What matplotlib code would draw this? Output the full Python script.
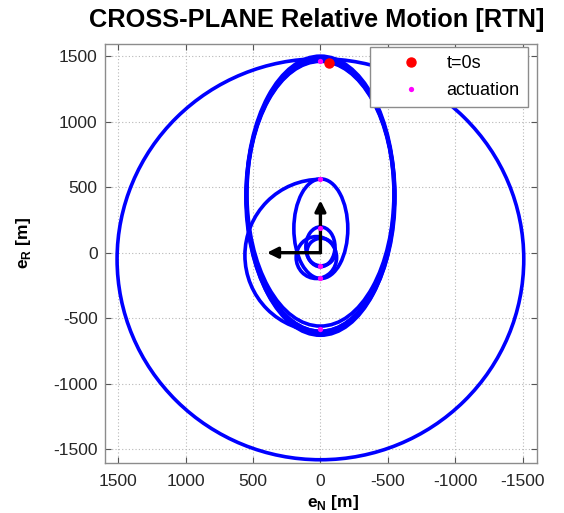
# cross_plane_rtn.py : RN平面の相対運動（各ループを楕円で表現）

import matplotlib
matplotlib.use("Agg")
import matplotlib.pyplot as plt
from matplotlib.patches import Ellipse, Arc
from matplotlib.lines import Line2D

plt.rcParams["font.family"] = ["Liberation Sans", "DejaVu Sans"]
plt.rcParams["mathtext.fontset"] = "custom"
plt.rcParams["mathtext.rm"] = "Liberation Sans"
plt.rcParams["mathtext.bf"] = "Liberation Sans:bold"

# ループ（中心 N, 中心 R, 半径 N, 半径 R）: 画像から読み取った値 [m]
loop_cn = [0, 0, 0, 0, 0, 0, -3, 0, 30, -5]
loop_cr = [-50, 450, 440, 425, 450, 430, 183, 45, -37, 5]
loop_an = [1508, 550, 547, 553, 545, 549, 200, 108, 150, 105]
loop_ar = [1530, 1050, 1040, 1040, 1010, 1060, 380, 152, 160, 105]

# 中ループ → 縦長ループへの遷移弧（+N側の半分）
arc_cn, arc_cr = 0, -20
arc_an, arc_ar = 560, 580
arc_t1, arc_t2 = -90, 90

# 初期位置と噴射点
start_n, start_r = [-64], [1450]
act_n = [0, 0, 0, 0, 0, 0]
act_r = [1460, 561, 190, -101, -195, -583]

# 座標系の矢印（R方向, N方向）
arrow_dn = [0, 397]
arrow_dr = [400, 0]

ticks = [1500, 1000, 500, 0, -500, -1000, -1500]
tick_labels = ["1500", "1000", "500", "0", "-500", "-1000", "-1500"]

fig = plt.figure(figsize=(5.64, 5.13), dpi=100)
ax = fig.add_axes([0.1856, 0.0969, 0.7665, 0.8172])

blue = (0, 0, 1)
for cn, cr, an, ar in zip(loop_cn, loop_cr, loop_an, loop_ar):
    ax.add_patch(Ellipse((cn, cr), 2 * an, 2 * ar, fill=False,
                         edgecolor=blue, lw=2.6, zorder=2))
ax.add_patch(Arc((arc_cn, arc_cr), 2 * arc_an, 2 * arc_ar,
                 theta1=arc_t1, theta2=arc_t2, edgecolor=blue, lw=2.6, zorder=2))

for dn, dr in zip(arrow_dn, arrow_dr):
    ax.annotate("", xy=(dn, dr), xytext=(0, 0),
                arrowprops=dict(arrowstyle="-|>", lw=2.4, color="k",
                                mutation_scale=16, shrinkA=0, shrinkB=0),
                zorder=4)

ax.plot(start_n, start_r, "o", color=(1, 0, 0), ms=6.5, zorder=5)
ax.plot(act_n, act_r, "o", color=(1, 0, 1), ms=3.8, mec="none", zorder=5)

ax.set_xlim(1600, -1606)
ax.set_ylim(-1607, 1592)
ax.set_xticks(ticks)
ax.set_yticks(ticks)
ax.set_xticklabels(tick_labels)
ax.set_yticklabels(tick_labels)
ax.tick_params(direction="in", top=True, right=True, length=4,
               labelsize=12.5, labelcolor="#262626", color="#555555", pad=5)
ax.tick_params(axis="x", pad=8)
for s in ax.spines.values():
    s.set_color("#8c8c8c")
    s.set_linewidth(1.0)
ax.grid(True, linestyle=(0, (1, 2)), color="#b8b8b8", lw=0.8)
ax.set_axisbelow(True)

ax.set_title("CROSS-PLANE Relative Motion [RTN]", fontsize=18.3,
             fontweight="bold", pad=12, x=0.49)
ax.set_xlabel(r"e$_{\mathbf{N}}$ [m]", fontsize=12.5, fontweight="bold")
ax.set_ylabel(r"e$_{\mathbf{R}}$ [m]", fontsize=12.5, fontweight="bold")
ax.xaxis.set_label_coords(0.528, -0.071)
ax.yaxis.set_label_coords(-0.166, 0.525)

handles = [
    Line2D([], [], marker="o", ls="none", color=(1, 0, 0), ms=6.5),
    Line2D([], [], marker="o", ls="none", color=(1, 0, 1), ms=3.8, mec="none"),
]
ax.legend(handles, ["t=0s", "actuation"], loc="upper right",
          bbox_to_anchor=(0.979, 0.993), fontsize=13, fancybox=False,
          framealpha=1, edgecolor="#8c8c8c", handlelength=3.6,
          handletextpad=0.2, borderpad=0.45, labelspacing=0.55,
          borderaxespad=0)

fig.savefig("out.png", dpi=100)
